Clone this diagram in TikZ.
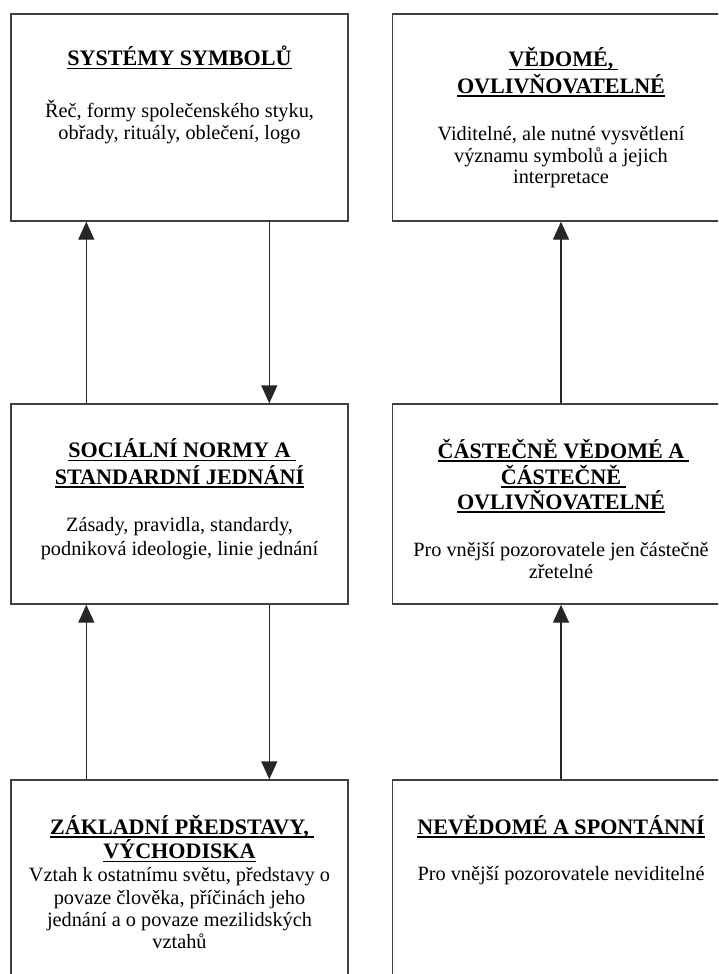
\documentclass[tikz,border=0pt]{standalone}
\usepackage{fontspec}
\setmainfont{Liberation Serif}
\usetikzlibrary{arrows.meta}
\newcommand{\ulx}[2][0pt]{\setbox0\hbox{#2}\rlap{\rule[-3.5pt]{\dimexpr\wd0+#1\relax}{1.3pt}}\box0}
\tikzset{
 box/.style={draw=black!75, line width=1.4pt, minimum width=337pt, inner sep=0pt},
 ttl/.style={font=\fontsize{22.1}{26}\selectfont\bfseries, anchor=base, inner sep=0pt},
 txt/.style={font=\fontsize{20.3}{22}\selectfont, anchor=base, inner sep=0pt},
 arr/.style={draw=black!85, line width=1.4pt, -{Triangle[length=18pt,width=16pt]}}
}
\begin{document}
\begin{tikzpicture}[x=1pt,y=-1pt]
\useasboundingbox (0,0) rectangle (718,974);
\clip (0,0) rectangle (718,974);
% boxes
\node[box, minimum height=207pt] (b1) at (179.5,117.5) {};
\node[box, minimum height=207pt] (b2) at (561,117.5) {};
\node[box, minimum height=200pt] (b3) at (179.5,504) {};
\node[box, minimum height=200pt] (b4) at (561,504) {};
\node[box, minimum height=220pt] (b5) at (179.5,890) {};
\node[box, minimum height=220pt] (b6) at (561,890) {};
% arrows
\draw[arr] ([xshift=76pt]b3.north west) -- ([xshift=76pt]b1.south west);
\draw[arr] ([xshift=259pt]b1.south west) -- ([xshift=259pt]b3.north west);
\draw[arr] (b4.north) -- (b2.south);
\draw[arr] ([xshift=76pt]b5.north west) -- ([xshift=76pt]b3.south west);
\draw[arr] ([xshift=259pt]b3.south west) -- ([xshift=259pt]b5.north west);
\draw[arr] (b6.north) -- (b4.south);
% box 1
\node[ttl] (t1a) at (179.5,65.7) {\ulx{SYSTÉMY SYMBOLŮ}};
\node[txt] (s1a) at (179.5,117) {Řeč, formy společenského styku,};
\node[txt] (s1b) at (179.5,139) {obřady, rituály, oblečení, logo};
% box 2
\node[ttl] (t2a) at (561,66.7) {\ulx[5pt]{VĚDOMÉ,}};
\node[ttl] (t2b) at (561,93) {\ulx{OVLIVŇOVATELNÉ}};
\node[txt] (s2a) at (561,140) {Viditelné, ale nutné vysvětlení};
\node[txt] (s2b) at (561,162) {významu symbolů a jejich};
\node[txt] (s2c) at (561,183.5) {interpretace};
% box 3
\node[ttl] (t3a) at (179.5,457.7) {\ulx[5pt]{SOCIÁLNÍ NORMY A}};
\node[ttl] (t3b) at (179.5,484) {\ulx{STANDARDNÍ JEDNÁNÍ}};
\node[txt] (s3a) at (179.5,531.5) {Zásady, pravidla, standardy,};
\node[txt] (s3b) at (179.5,555.5) {podniková ideologie, linie jednání};
% box 4
\node[ttl] (t4a) at (561,458) {\ulx[5pt]{ČÁSTEČNĚ VĚDOMÉ A}};
\node[ttl] (t4b) at (561,484) {\ulx[5pt]{ČÁSTEČNĚ}};
\node[ttl] (t4c) at (561,509) {\ulx{OVLIVŇOVATELNÉ}};
\node[txt] (s4a) at (561,556.7) {Pro vnější pozorovatele jen částečně};
\node[txt] (s4b) at (561,578) {zřetelné};
% box 5
\node[ttl] (t5a) at (179.5,834) {\ulx[5pt]{ZÁKLADNÍ PŘEDSTAVY,}};
\node[ttl] (t5b) at (179.5,858.3) {\ulx{VÝCHODISKA}};
\node[txt] (s5a) at (179.5,881.7) {Vztah k ostatnímu světu, představy o};
\node[txt] (s5b) at (179.5,904) {povaze člověka, příčinách jeho};
\node[txt] (s5c) at (179.5,926.7) {jednání a o povaze mezilidských};
\node[txt] (s5d) at (179.5,948) {vztahů};
% box 6
\node[ttl] (t6a) at (561,834) {\ulx{NEVĚDOMÉ A SPONTÁNNÍ}};
\node[txt] (s6a) at (561,880) {Pro vnější pozorovatele neviditelné};
\end{tikzpicture}
\end{document}
